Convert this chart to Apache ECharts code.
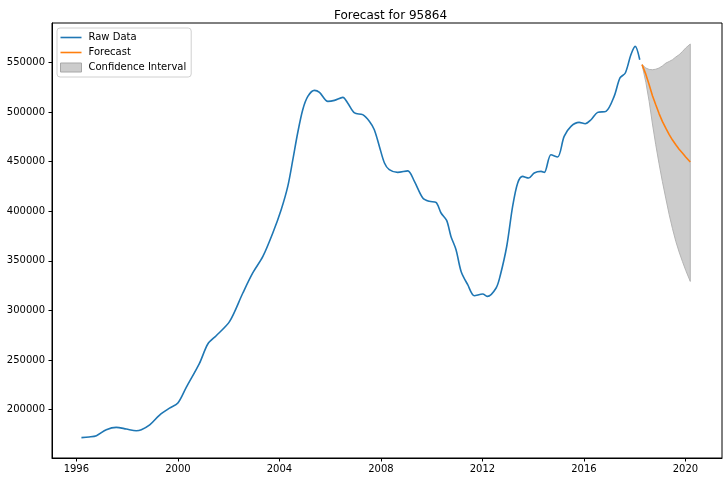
<!DOCTYPE html>
<html>
<head>
<meta charset="utf-8">
<title>Forecast for 95864</title>
<script src="https://cdn.jsdelivr.net/npm/echarts@6/dist/echarts.min.js"></script>
<style>
  html, body { margin: 0; padding: 0; background: #fff; }
  #chart { width: 728px; height: 482px; }
</style>
</head>
<body>
<div id="chart"></div>
<script>
// values (x in decimal years)
const rawYears = [
  1996.20, 1996.50, 1996.79, 1997.18, 1997.57, 1997.97, 1998.36, 1998.56, 1998.89, 1999.28,
  1999.67, 2000.00, 2000.33, 2000.85, 2001.18, 2001.51, 2002.04, 2002.56, 2002.95, 2003.35,
  2003.74, 2004.07, 2004.33, 2004.53, 2004.72, 2004.92, 2005.12, 2005.38, 2005.58, 2005.91,
  2006.17, 2006.50, 2006.69, 2006.96, 2007.28, 2007.55, 2007.74, 2007.94, 2008.14, 2008.33,
  2008.66, 2009.06, 2009.32, 2009.65, 2009.91, 2010.17, 2010.37, 2010.59, 2010.76, 2010.96,
  2011.16, 2011.42, 2011.68, 2012.01, 2012.20, 2012.54, 2012.70, 2012.96, 2013.19, 2013.39,
  2013.58, 2013.82, 2014.04, 2014.31, 2014.44, 2014.70, 2014.96, 2015.22, 2015.49, 2015.81,
  2016.05, 2016.28, 2016.54, 2016.87, 2017.19, 2017.42, 2017.63, 2017.85, 2018.02, 2018.20
];
const rawValues = [
  171800, 172500, 173800, 179800, 182200, 180500, 178800, 179800, 184600, 194600,
  201500, 206700, 222500, 246700, 266200, 274600, 289000, 317600, 337800, 354500,
  378100, 401600, 425100, 452000, 478900, 502400, 515800, 521900, 519900, 510800,
  511800, 514800, 509200, 499100, 497400, 490600, 482200, 465400, 448700, 441900,
  439200, 440700, 430100, 413400, 410000, 409000, 398300, 390800, 374700, 361300,
  339400, 326000, 314900, 316600, 314200, 322700, 335000, 365000, 404900, 428500,
  435200, 433500, 438600, 440200, 439200, 457000, 454700, 475500, 485600, 489600,
  488300, 492300, 499700, 500700, 515800, 534400, 539400, 557800, 566200, 552800
];

const forecastYears = [2018.29, 2018.44, 2018.57, 2018.70, 2018.83, 2018.96, 2019.09, 2019.23, 2019.36, 2019.49, 2019.62, 2019.75, 2019.88, 2020.01, 2020.19];
const forecastValues = [547800, 538000, 527600, 516500, 507400, 498500, 490600, 483500, 477200, 471800, 467100, 462500, 458700, 454800, 449600];
const ciLower = [547800, 530000, 510800, 488000, 467100, 448000, 430100, 412500, 396600, 382500, 369700, 359000, 349500, 340500, 329300];
const ciUpper = [547800, 544400, 543000, 542700, 543200, 544400, 546500, 549400, 551000, 552800, 555500, 557800, 561000, 564600, 568600];

const xTicks = [1996, 2000, 2004, 2008, 2012, 2016, 2020];
const yTicks = [200000, 250000, 300000, 350000, 400000, 450000, 500000, 550000];

const FONT = 'DejaVu Sans';
// thin horizontal bar for line legend entries (extra move-to points keep the box height)
const LINE_ICON = 'path://M0,0 L0,0 M0,3.7 L21,3.7 L21,5.3 L0,5.3 Z M21,9 L21,9';

const chart = echarts.init(document.getElementById('chart'), null, { renderer: 'canvas' });

function renderBand(params, api) {
  const upper = forecastYears.map((x, i) => api.coord([x, ciUpper[i]]));
  const lower = forecastYears.map((x, i) => api.coord([x, ciLower[i]])).reverse();
  return {
    type: 'polygon',
    shape: { points: upper.concat(lower) },
    style: { fill: '#cccccc', stroke: '#b4b4b4', lineWidth: 1 }
  };
}

const option = {
  animation: false,
  backgroundColor: '#fff',
  title: {
    text: 'Forecast for 95864',
    left: 329,
    top: 5,
    textStyle: {
      fontFamily: FONT,
      fontSize: 12,
      fontWeight: 'normal',
      color: '#000'
    }
  },
  legend: {
    orient: 'vertical',
    left: 57,
    top: 28,
    padding: [4, 5, 4, 3],
    itemWidth: 21,
    itemHeight: 9,
    itemGap: 4,
    borderColor: '#d0d0d0',
    borderWidth: 1,
    borderRadius: 3,
    backgroundColor: 'rgba(255,255,255,0.8)',
    textStyle: {
      fontFamily: FONT,
      fontSize: 10,
      lineHeight: 11,
      color: '#000',
      padding: [0, 0, 0, 2]
    },
    data: [
      { name: 'Raw Data', icon: LINE_ICON, itemStyle: { color: '#1f77b4', borderWidth: 0 } },
      { name: 'Forecast', icon: LINE_ICON, itemStyle: { color: '#ff7f0e', borderWidth: 0 } },
      {
        name: 'Confidence Interval',
        icon: 'rect',
        itemStyle: { color: '#cccccc', borderColor: '#a8a8a8', borderWidth: 1 }
      }
    ]
  },
  grid: {
    left: 52,
    top: 23,
    right: 6,
    bottom: 24,
    show: true,
    borderColor: '#000',
    borderWidth: 1,
    backgroundColor: 'transparent'
  },
  xAxis: {
    type: 'value',
    min: 1995.04,
    max: 2021.44,
    axisLine: { show: true, lineStyle: { color: '#000', width: 1 } },
    axisTick: {
      show: true,
      length: 3.5,
      lineStyle: { color: '#000' },
      customValues: xTicks
    },
    axisLabel: {
      fontFamily: FONT,
      fontSize: 10,
      color: '#000',
      margin: 6,
      customValues: xTicks,
      formatter: v => String(Math.round(v))
    },
    splitLine: { show: false }
  },
  yAxis: {
    type: 'value',
    min: 151300,
    max: 589800,
    axisLine: { show: true, lineStyle: { color: '#000', width: 1 } },
    axisTick: {
      show: true,
      length: 3.5,
      lineStyle: { color: '#000' },
      customValues: yTicks
    },
    axisLabel: {
      fontFamily: FONT,
      fontSize: 10,
      color: '#000',
      margin: 7,
      customValues: yTicks,
      formatter: v => String(v)
    },
    splitLine: { show: false }
  },
  series: [
    {
      name: 'Confidence Interval',
      type: 'custom',
      silent: true,
      color: '#cccccc',
      renderItem: renderBand,
      data: [[forecastYears[0], ciUpper[0]]],
      z: 1
    },
    {
      name: 'Raw Data',
      type: 'line',
      symbol: 'none',
      smooth: 0.3,
      color: '#1f77b4',
      lineStyle: { width: 1.6, color: '#1f77b4' },
      data: rawYears.map((x, i) => [x, rawValues[i]]),
      z: 3
    },
    {
      name: 'Forecast',
      type: 'line',
      symbol: 'none',
      color: '#ff7f0e',
      lineStyle: { width: 1.6, color: '#ff7f0e' },
      data: forecastYears.map((x, i) => [x, forecastValues[i]]),
      z: 4
    }
  ]
};

chart.setOption(option);
</script>
</body>
</html>
